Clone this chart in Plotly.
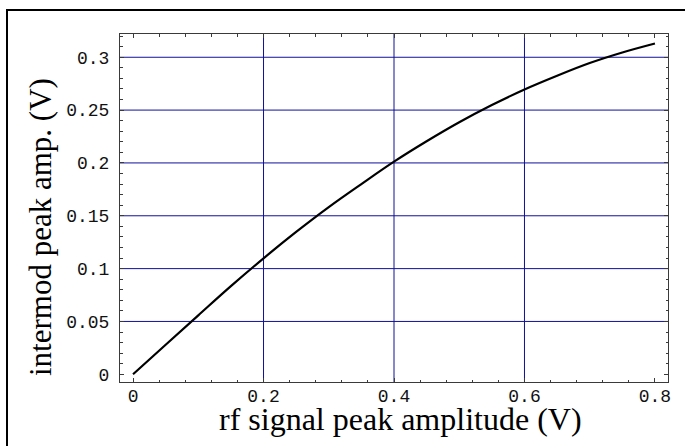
import plotly.graph_objects as go

# data
rf_amp = [0.0, 0.05, 0.10, 0.15, 0.20, 0.25, 0.30, 0.35, 0.40, 0.45, 0.50,
          0.55, 0.60, 0.65, 0.70, 0.75, 0.80]
intermod_amp = [0.0, 0.028, 0.0558, 0.0834, 0.1097, 0.1347, 0.1582, 0.1800,
                0.2012, 0.2205, 0.2385, 0.2548, 0.2695, 0.2825, 0.2945,
                0.3045, 0.3130]

x_tick_vals = [0, 0.2, 0.4, 0.6, 0.8]
x_tick_text = ["0", "0.2", "0.4", "0.6", "0.8"]
y_tick_vals = [0, 0.05, 0.10, 0.15, 0.20, 0.25, 0.30]
y_tick_text = ["0", "0.05", "0.1", "0.15", "0.2", "0.25", "0.3"]
x_grid = [0.2, 0.4, 0.6]
y_grid = [0.05, 0.10, 0.15, 0.20, 0.25, 0.30]

x_title = "rf signal peak amplitude (V)"
y_title = "intermod peak amp. (V)"

GRID = "#10109a"
FRAME = "#3a3a3a"
TICKFONT = dict(family="Liberation Mono", size=18, color="#111111")
TITLEFONT = dict(family="Liberation Serif", size=32, color="#000000")
YTITLEFONT = dict(family="Liberation Serif", size=31, color="#000000")

fig = go.Figure()
fig.add_trace(go.Scatter(x=rf_amp, y=intermod_amp, mode="lines",
                         line=dict(color="black", width=2.2, shape="spline"),
                         showlegend=False, hoverinfo="skip"))

shapes = []
for v in x_grid:
    shapes.append(dict(type="line", xref="x", yref="y domain", x0=v, x1=v, y0=0, y1=1,
                       line=dict(color=GRID, width=1), layer="below"))
for v in y_grid:
    shapes.append(dict(type="line", xref="x domain", yref="y", x0=0, x1=1, y0=v, y1=v,
                       line=dict(color=GRID, width=1), layer="below"))
# outer picture border
shapes.append(dict(type="rect", xref="paper", yref="paper",
                   x0=(7 - 120) / 548, x1=(690 - 120) / 548,
                   y0=(382 - 450) / 348, y1=(382 - 10) / 348,
                   line=dict(color="black", width=2), fillcolor="rgba(0,0,0,0)"))

annotations = [
    dict(text=x_title, xref="paper", yref="paper", x=(400 - 120) / 548,
         y=(382 - 419) / 348, xanchor="center", yanchor="middle",
         showarrow=False, font=TITLEFONT),
    dict(text=y_title, xref="paper", yref="paper", x=(40 - 120) / 548,
         y=(382 - 227) / 348, xanchor="center", yanchor="middle", textangle=-90,
         showarrow=False, font=YTITLEFONT),
]

axis_common = dict(showgrid=False, zeroline=False, showline=True, linecolor=FRAME,
                   linewidth=1, mirror="ticks", ticks="inside", ticklen=4,
                   tickwidth=1, tickcolor=FRAME, tickfont=TICKFONT)

fig.update_layout(
    width=685, height=446,
    margin=dict(l=120, r=17, t=34, b=64, autoexpand=False),
    paper_bgcolor="white", plot_bgcolor="white",
    shapes=shapes, annotations=annotations,
    xaxis=dict(range=[-0.02, 0.82], tickvals=x_tick_vals, ticktext=x_tick_text,
               minor=dict(dtick=0.04, tick0=0, ticks="inside", ticklen=2.5,
                          tickcolor=FRAME, showgrid=False),
               ticklabelstandoff=-3, **axis_common),
    yaxis=dict(range=[-0.0073, 0.322], tickvals=y_tick_vals, ticktext=y_tick_text,
               minor=dict(dtick=0.01, tick0=0, ticks="inside", ticklen=2.5,
                          tickcolor=FRAME, showgrid=False),
               ticklabelstandoff=6, **axis_common),
)

fig.write_html("out.html", config={"displayModeBar": False},
               post_script="document.body.style.margin='0';document.body.style.overflow='hidden';")
